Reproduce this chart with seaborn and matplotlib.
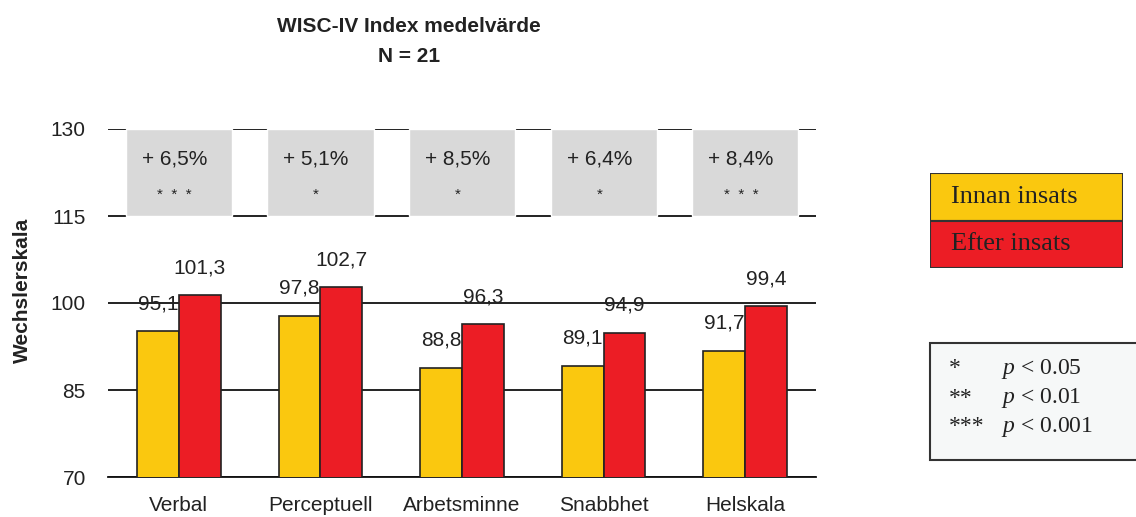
import matplotlib
matplotlib.use("Agg")
import matplotlib.pyplot as plt
from matplotlib.patches import Rectangle
import numpy as np
import pandas as pd
import seaborn as sns

categories = ["Verbal", "Perceptuell", "Arbetsminne", "Snabbhet", "Helskala"]
innan = [95.1, 97.8, 88.8, 89.1, 91.7]
efter = [101.3, 102.7, 96.3, 94.9, 99.4]
change = ["+ 6,5%", "+ 5,1%", "+ 8,5%", "+ 6,4%", "+ 8,4%"]
stars = ["*  *  *", "*", "*", "*", "*  *  *"]
groups = ["Innan insats", "Efter insats"]
colors = ["#FAC80F", "#EC1D25"]
yticks = [70, 85, 100, 115, 130]
p_rows = [("*", "0.05"), ("**", "0.01"), ("***", "0.001")]

sns.set_theme(style="white")
plt.rcParams["font.family"] = ["Liberation Sans", "DejaVu Sans"]
plt.rcParams["mathtext.fontset"] = "custom"
plt.rcParams["mathtext.rm"] = "Liberation Serif"
plt.rcParams["mathtext.it"] = "Liberation Serif:italic"

df = pd.DataFrame({
    "kategori": categories * 2,
    "varde": innan + efter,
    "grupp": [groups[0]] * len(categories) + [groups[1]] * len(categories),
})

fig = plt.figure(figsize=(11.36, 5.17), dpi=100)
ax = fig.add_axes([108 / 1136, 40 / 517, 708 / 1136, 348 / 517])

sns.barplot(data=df, x="kategori", y="varde", hue="grupp", palette=colors,
            saturation=1, width=0.59, gap=0, edgecolor="#222222", linewidth=1.2,
            legend=False, ax=ax, zorder=3)

pos = np.arange(len(categories))
# grey boxes with change and significance
ax.bar(pos, 15, bottom=115, width=0.75, color="#D9D9D9", zorder=1.5)
for i in pos:
    ax.text(i - 0.03, 124.8, change[i], ha="center", va="center", fontsize=15, color="#222222")
    ax.text(i - 0.03, 118.6, stars[i], ha="center", va="center", fontsize=11, color="#222222")

# value labels
for cont in ax.containers:
    for rect in cont:
        h = rect.get_height()
        ax.annotate(f"{h:.1f}".replace(".", ","),
                    (rect.get_x() + rect.get_width() / 2, h),
                    xytext=(0, 20), textcoords="offset points",
                    ha="center", va="center", fontsize=15, color="#222222", zorder=5)

ax.set_ylim(70, 130)
ax.set_xlim(-0.5, len(categories) - 0.5)
ax.set_yticks(yticks)
ax.yaxis.grid(True, color="#111111", linewidth=1.3)
ax.set_axisbelow(True)
ax.set_xticks(pos, categories)
ax.set_xticks(np.arange(-0.5, len(categories)), minor=True)
ax.tick_params(axis="x", which="major", length=0, pad=14, labelsize=15, labelcolor="#222222")
ax.tick_params(axis="x", which="minor", length=6, width=1.2, color="#111111", direction="out")
ax.tick_params(axis="y", length=0, pad=16, labelsize=15, labelcolor="#222222")
ax.set_xlabel("")
ax.set_ylabel("")
for s in ["top", "right", "left"]:
    ax.spines[s].set_visible(False)
ax.spines["bottom"].set_color("#111111")
ax.spines["bottom"].set_linewidth(1.3)

fig.text(22 / 1136, 1 - 290 / 517, "Wechslerskala", rotation=90, ha="center", va="center",
         fontsize=15, fontweight="bold", color="#222222")
fig.text(409 / 1136, 1 - 27 / 517, "WISC-IV Index medelvärde", ha="center", va="center",
         fontsize=15, fontweight="bold", color="#222222")
fig.text(409 / 1136, 1 - 57 / 517, "N = 21", ha="center", va="center",
         fontsize=15, fontweight="bold", color="#222222")

# colour legend
lax = fig.add_axes([930 / 1136, 1 - 268 / 517, 193 / 1136, 95 / 517])
lax.set_axis_off()
lax.set_xlim(0, 1)
lax.set_ylim(0, 2)
for k, (g, c) in enumerate(zip(groups, colors)):
    y0 = 1 - k
    lax.add_patch(Rectangle((0, y0), 1, 1, facecolor=c, edgecolor="#333333", linewidth=1.5))
    lax.text(0.11, y0 + 0.5, g, ha="left", va="center", fontsize=19,
             family=["Liberation Serif", "DejaVu Serif"], color="#222222")

# p-value legend
pax = fig.add_axes([930 / 1136, 1 - 460 / 517, 210 / 1136, 117 / 517])
pax.set_axis_off()
pax.set_xlim(0, 1)
pax.set_ylim(0, 1)
pax.add_patch(Rectangle((0, 0), 1, 1, facecolor="#F6F8F8", edgecolor="#333333",
                        linewidth=1.5, clip_on=False))
for k, (st, val) in enumerate(p_rows):
    yy = 1 - (26 + 29 * k) / 117
    pax.text(0.09, yy, st, ha="left", va="center", fontsize=17,
             family=["Liberation Serif", "DejaVu Serif"], color="#222222")
    pax.text(0.34, yy, f"$p$ < {val}", ha="left", va="center", fontsize=17,
             family=["Liberation Serif", "DejaVu Serif"], color="#222222")

fig.savefig("out.png", dpi=100)
